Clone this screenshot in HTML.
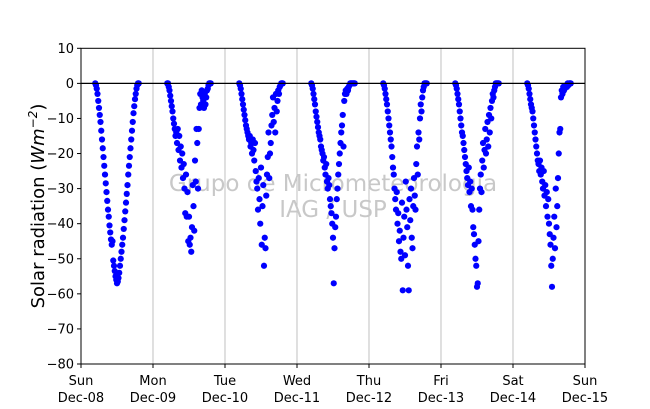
<!DOCTYPE html>
<html><head><meta charset="utf-8"><style>
body{margin:0;background:#fff;}
svg{display:block;font-family:"DejaVu Sans","Liberation Sans",sans-serif;}
</style></head><body>
<svg id="chart" width="650" height="409" viewBox="0 0 650 409">
  <g id="grid"></g>
  <text x="333" y="191" font-size="23" fill="#c8c8c8" text-anchor="middle">Grupo de Micrometeorologia</text>
  <text x="333" y="217" font-size="23" fill="#c8c8c8" text-anchor="middle">IAG / USP</text>
  <g id="points"></g>
  <line id="zeroline" stroke="#000" stroke-width="1.3"></line>
  <rect x="81" y="48.3" width="504" height="315.7" fill="none" stroke="#000" stroke-width="1"></rect>
  <g id="yaxis"></g>
  <g id="xaxis"></g>
  <text transform="translate(44,206) rotate(-90)" font-size="18" text-anchor="middle">Solar radiation (<tspan font-style="italic">Wm</tspan><tspan font-style="italic" font-size="12" dy="-7">−2</tspan><tspan dy="7">)</tspan></text>
</svg>
<script>
const dayNames = ["Sun","Mon","Tue","Wed","Thu","Fri","Sat","Sun"];
const dayDates = ["Dec-08","Dec-09","Dec-10","Dec-11","Dec-12","Dec-13","Dec-14","Dec-15"];
const yTicks = [10,0,-10,-20,-30,-40,-50,-60,-70,-80];
const startHour = 4.75;
const stepHour = 0.25;
const day0 = [0,-0.5,-1.5,-3,-5,-7,-9,-11,-13.5,-16,-18.5,-21,-23.5,-26,-28.5,-31,-33.5,-36,-38,-40.5,-42.5,-44.5,-46,-45,-50.5,-52,-53.5,-55,-56,-57,-56.5,-55.5,-54,-52,-50,-48,-46,-44,-41.5,-39,-36.5,-34,-31.5,-29,-26,-23.5,-21,-18.5,-16,-13.5,-11,-8.5,-6.5,-4.5,-3,-1.5,-0.5,0,0];
const day1 = [0,0,-1,-2,-3.5,-5,-6.5,-8,-10,-11.5,-13,-15,-14,-17,-13,-19,-15,-22,-18,-24,-20,-27,-23,-30,-37,-26,-38,-31,-45,-38,-46,-44,-48,-41,-29,-35,-42,-22,-28,-13,-17,-30,-13,-7,-3,-6,-2,-4,-5,-7,-3,-6,-4,-2,-1.5,-0.5,0,0,0];
const day2 = [0,-0.5,-1.5,-3,-4.5,-6,-7.5,-9,-10.5,-12,-13,-14,-15,-16,-15,-18,-17,-20,-16,-19,-22,-17,-25,-28,-30,-36,-27,-33,-40,-24,-46,-35,-29,-52,-44,-47,-32,-26,-21,-14,-27,-20,-17,-12,-9,-4,-11,-7,-14,-3,-8,-5,-2,-3,-1,-0.5,0,0,0];
const day3 = [0,-0.5,-1.5,-3,-4.5,-6,-8,-9.5,-11,-12.5,-14,-15,-16,-18,-19,-20,-22,-21,-24,-26,-23,-28,-30,-27,-29,-33,-35,-37,-40,-44,-57,-47,-41,-38,-33,-30,-26,-23,-20,-17,-14,-12,-9,-18,-5,-3,-2,-3,-1.5,-2,-1,-0.5,0,0,0,0,0,0,0];
const day4 = [0,-0.5,-1.5,-3,-4.5,-6,-8,-10,-12,-14,-16,-18,-21,-24,-26,-30,-33,-36,-31,-40,-37,-45,-42,-48,-50,-34,-59,-44,-38,-49,-28,-36,-41,-52,-59,-33,-39,-30,-44,-47,-35,-27,-32,-36,-23,-18,-26,-14,-16,-10,-6,-8,-4,-2,-1,0,0,0,0];
const day5 = [0,-0.5,-1.5,-3,-4.5,-6,-8,-10,-12,-14,-15,-17,-19,-21,-23,-25,-27,-29,-24,-31,-28,-35,-30,-36,-41,-43,-46,-50,-52,-58,-57,-45,-36,-30,-26,-31,-22,-17,-24,-19,-13,-20,-16,-11,-18,-9,-14,-7,-10,-5,-3,-4,-2,-1,0,0,0,0,0];
const day6 = [0,-0.5,-1.5,-3,-4.5,-6,-7,-8,-10,-12,-14,-16,-18,-20,-22,-23,-25,-22,-26,-24,-28,-30,-25,-32,-29,-35,-31,-38,-33,-40,-43,-46,-52,-58,-50,-44,-38,-47,-30,-41,-35,-27,-20,-14,-13,-4,-2,-3,-1,-2,-1.5,-1,-0.5,-1,0,-0.5,0,0,0];
const days = [day0,day1,day2,day3,day4,day5,day6];

const NS="http://www.w3.org/2000/svg";
const X0=81,X1=585,Y0=48.3,Y1=364,YMAX=10,YMIN=-80;
function xScale(dayPos){return X0+(X1-X0)*dayPos/7;}
function yScale(v){return Y0+(YMAX-v)*(Y1-Y0)/(YMAX-YMIN);}
function mk(tag,attrs){const e=document.createElementNS(NS,tag);for(const k in attrs)e.setAttribute(k,attrs[k]);return e;}

const grid=document.getElementById('grid');
for(let d=1;d<7;d++){
  const l=mk('line',{x1:xScale(d),x2:xScale(d),y1:Y0,y2:Y1,stroke:'#b0b0b0','stroke-width':0.8});
  
  
  grid.appendChild(l);
}
const z=document.getElementById('zeroline');
z.setAttribute('x1',X0);z.setAttribute('x2',X1);z.setAttribute('y1',yScale(0));z.setAttribute('y2',yScale(0));

const pts=document.getElementById('points');
days.forEach((arr,d)=>{
  arr.forEach((v,i)=>{
    const h=startHour+i*stepHour;
    const c=mk('circle',{cx:xScale(d+h/24),cy:yScale(v),r:3.1,fill:'#0000ff'});
    
    
    pts.appendChild(c);
  });
});

const ya=document.getElementById('yaxis');
yTicks.forEach(t=>{
  const y=yScale(t);
  const l=mk('line',{x1:X0-4,x2:X0,y1:y,y2:y,stroke:'#000','stroke-width':1});
  
  
  ya.appendChild(l);
  const tx=mk('text',{x:X0-7,y:y+4.5,'font-size':13,'text-anchor':'end'});
  tx.textContent=(t<0?'\u2212'+(-t):String(t));
  
  
  ya.appendChild(tx);
});
const xa=document.getElementById('xaxis');
dayNames.forEach((n,d)=>{
  const x=xScale(d);
  const l=mk('line',{x1:x,x2:x,y1:Y1,y2:Y1+4,stroke:'#000','stroke-width':1});
  
  
  xa.appendChild(l);
  const t1=mk('text',{x:x,y:385,'font-size':13,'text-anchor':'middle'});
  t1.textContent=n;
  
  
  xa.appendChild(t1);
  const t2=mk('text',{x:x,y:402,'font-size':13,'text-anchor':'middle'});
  t2.textContent=dayDates[d];
  
  
  xa.appendChild(t2);
});
</script>
</body></html>
